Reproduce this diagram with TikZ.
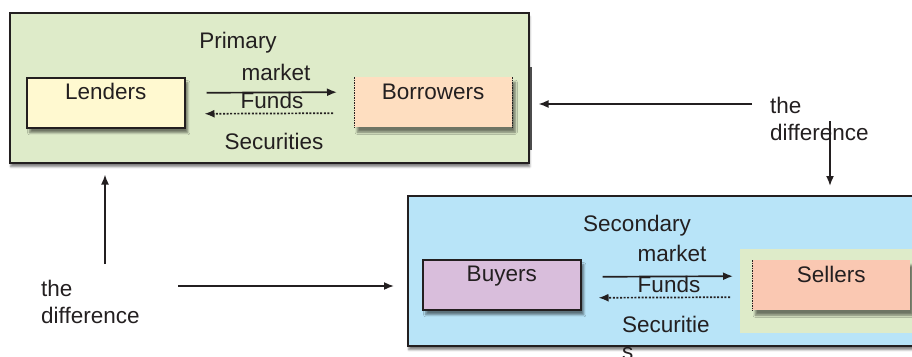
\documentclass[tikz,border=0pt]{standalone}
\usepackage{fontspec}
\setmainfont{Liberation Sans}
\usetikzlibrary{arrows.meta,calc,shadows.blur}
\definecolor{primgreen}{RGB}{222,235,201}
\definecolor{lendyellow}{RGB}{255,249,208}
\definecolor{borrpeach}{RGB}{254,222,192}
\definecolor{secblue}{RGB}{184,228,248}
\definecolor{buyviolet}{RGB}{217,190,220}
\definecolor{sellsalmon}{RGB}{250,200,178}
\definecolor{inkgray}{RGB}{35,31,32}
\tikzset{
	panel/.style={draw=inkgray, line width=1.5pt, anchor=north west, inner sep=0pt, blur shadow={shadow xshift=1pt, shadow yshift=-4pt, shadow blur steps=5, shadow opacity=50}},
	party/.style={anchor=north west, minimum width=158pt, text height=19.5pt, text depth=25.5pt, inner ysep=2.5pt, inner xsep=0pt, blur shadow={shadow xshift=3pt, shadow yshift=-5pt, shadow blur steps=6, shadow opacity=50}},
	word/.style={anchor=base, inner sep=0pt},
	flow/.style={line width=1.7pt, draw=inkgray, -{Latex[length=10pt,width=8pt]}},
	back/.style={flow, dash pattern=on 2pt off 1.6pt},
	side/.style={line width=0.8pt, draw=inkgray, dash pattern=on 1.5pt off 1pt},
}

\begin{document}
\begin{tikzpicture}[x=1pt, y=-1pt, every node/.append style={font=\fontsize{22.5}{27}\selectfont, text=inkgray}]
			%%%%% START %%%%%
			
			\clip (0,0) rectangle (912,356);
			
			% primary market
			\node[panel, fill=primgreen, minimum width=519pt, minimum height=150pt] (primary) at (9,12) {};
			\draw[line width=2pt, black!70] (531,67) -- (531,150);
			\node[party, draw=inkgray, line width=1.5pt, fill=lendyellow] (lenders) at (26,77) {Lenders};
			\node[party, fill=borrpeach] (borrowers) at (354,77) {Borrowers};
			\draw[side] (borrowers.north west) -- (borrowers.south west) (borrowers.north east) -- (borrowers.south east);
			
			\node[word] (prim) at (238,48) {Primary};
			\node[word] (primmkt) at (276,80) {market};
			\node[word] (primfunds) at (272,108) {Funds};
			\node[word] (primsec) at (274,149) {Securities};
			
			\draw[flow] ($(lenders.east)+(21,-10)$) -- ($(borrowers.west)+(-17,-10)$);
			\draw[back] ($(borrowers.west)+(-21,11)$) -- ($(lenders.east)+(19,11)$);
			
			% secondary market
			\node[panel, fill=secblue, minimum width=530pt, minimum height=150pt] (secondary) at (407,195) {};
			\node[anchor=north west, fill=primgreen, minimum width=180pt, minimum height=84pt, inner sep=0pt] (sellbg) at (740,249) {};
			\node[party, draw=inkgray, line width=1.5pt, fill=buyviolet] (buyers) at (422,259) {Buyers};
			\node[party, fill=sellsalmon] (sellers) at (752,260) {Sellers};
			\draw[side] (sellers.north west) -- (sellers.south west);
			
			\node[word] (sec) at (637,231) {Secondary};
			\node[word] (secmkt) at (672,261) {market};
			\node[word] (secfunds) at (669,292) {Funds};
			\node[word, anchor=base west, align=left] (secsec) at (622,359) {Securitie\\s};
			
			\draw[flow] ($(buyers.east)+(21,-8)$) -- ($(sellers.west)+(-19,-9)$);
			\draw[back] ($(sellers.west)+(-22,12)$) -- ($(buyers.east)+(17,13)$);
			
			% the difference
			\node[word, anchor=base west, align=left] (diffR) at (770,140) {the\\difference};
			\node[word, anchor=base west, align=left] (diffL) at (41,323) {the\\difference};
			
			\coordinate (rtail) at ($(diffR.base west)+(-18,-36)$);
			\coordinate (dtail) at ($(diffR.base west)+(60,-19)$);
			\coordinate (utail) at ($(diffL.base west)+(64,-59)$);
			\coordinate (ltail) at ($(diffL.base west)+(137,-37)$);
			\draw[flow] (rtail) -- ($(primary.east |- rtail)+(9,0)$);
			\draw[flow] (dtail) -- ($(secondary.north -| dtail)+(0,-9)$);
			\draw[flow] (utail) -- ($(primary.south -| utail)+(0,11)$);
			\draw[flow] (ltail) -- ($(secondary.west |- ltail)+(-13,0)$);
			
			%%%%% END %%%%%
\end{tikzpicture}
\end{document}
